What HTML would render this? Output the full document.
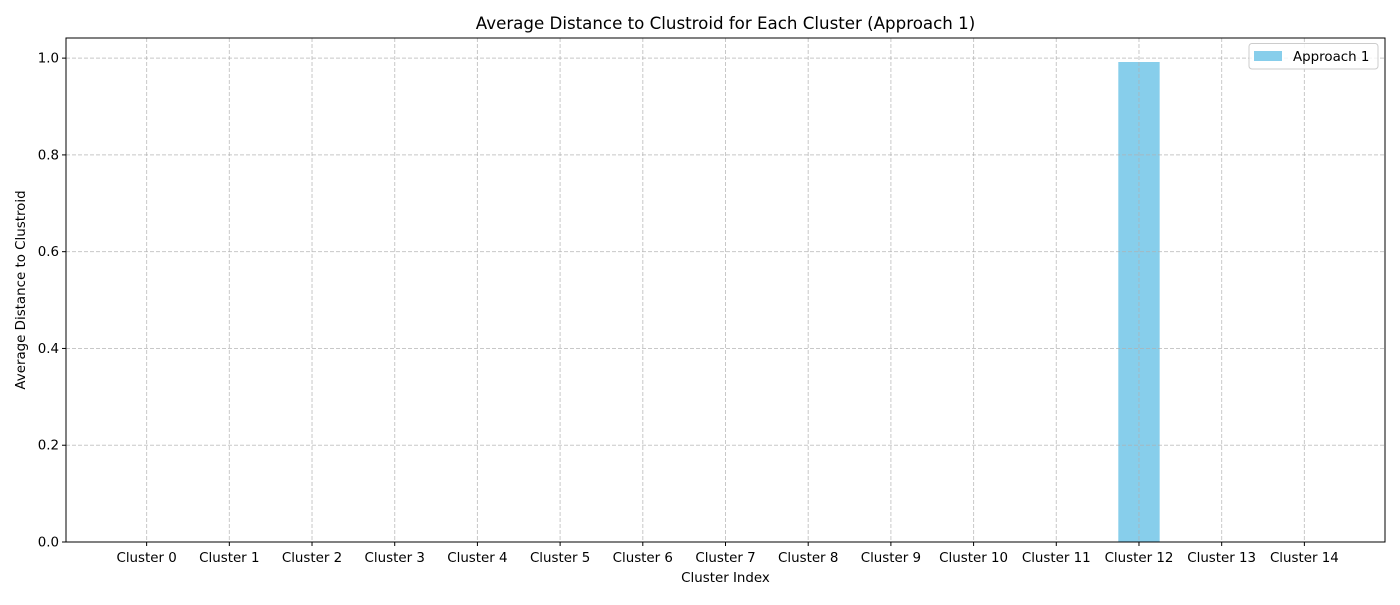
<!DOCTYPE html>
<html><head><meta charset="utf-8"><style>
body{margin:0;background:#fff;}
svg text{font-family:"DejaVu Sans","Liberation Sans",sans-serif;fill:#000;}
</style></head><body>
<svg id="chart" width="1400" height="600" xmlns="http://www.w3.org/2000/svg">
<rect width="1400" height="600" fill="#fff"/>
<text x="725.5" y="29" font-size="16.67" text-anchor="middle">Average Distance to Clustroid for Each Cluster (Approach 1)</text>
<g id="bars"></g>
<g id="grid"></g>
<g id="ticks"></g>
<rect x="66" y="38" width="1319" height="504" fill="none" stroke="#000" stroke-width="1"/>
<text x="725.5" y="582" font-size="13.4" text-anchor="middle">Cluster Index</text>
<text transform="translate(25,290) rotate(-90)" font-size="13.4" text-anchor="middle">Average Distance to Clustroid</text>
<g>
<rect x="1249" y="43.5" width="129" height="25.5" rx="3" fill="#fff" fill-opacity="0.8" stroke="#ccc"/>
<rect x="1254" y="51" width="28" height="10" fill="#87ceeb"/>
<text x="1293" y="61" font-size="13.4">Approach 1</text>
</g>
</svg>
<script>
const categories = ["Cluster 0","Cluster 1","Cluster 2","Cluster 3","Cluster 4","Cluster 5","Cluster 6","Cluster 7","Cluster 8","Cluster 9","Cluster 10","Cluster 11","Cluster 12","Cluster 13","Cluster 14"];
const values = [0,0,0,0,0,0,0,0,0,0,0,0,0.992,0,0];
const yTicks = [0.0,0.2,0.4,0.6,0.8,1.0];
const NS="http://www.w3.org/2000/svg";
const L=66,R=1385,T=38,B=542;
const maxV=Math.max(...values)||1;
const yMax=maxV*1.05;
const xMin=-0.25-0.05*(categories.length-0.5), xMax=categories.length-0.75+0.05*(categories.length-0.5);
function xs(i){return L+(i-xMin)/(xMax-xMin)*(R-L);}
function ys(v){return B-v/yMax*(B-T);}
const step=xs(1)-xs(0);
function mk(tag,attrs,parent){const e=document.createElementNS(NS,tag);for(const k in attrs)e.setAttribute(k,attrs[k]);document.getElementById(parent).appendChild(e);return e;}
values.forEach((v,i)=>{
 const r=mk('rect',{x:xs(i)-step*0.25,y:ys(v),width:step*0.5,height:B-ys(v),fill:'#87ceeb'},'bars');
 
 
});
categories.forEach((c,i)=>{
 const x=xs(i);
 const g=mk('line',{x1:x,x2:x,y1:T,y2:B,stroke:'#b0b0b0','stroke-opacity':0.7,'stroke-dasharray':'4,2'},'grid');
 
 
 mk('line',{x1:x,x2:x,y1:B,y2:B+4,stroke:'#000'},'ticks');
 const t=mk('text',{x:x,y:B+20,'font-size':13.4,'text-anchor':'middle'},'ticks');
 t.textContent=c;
 
 
});
yTicks.forEach(v=>{
 const y=ys(v);
 const g=mk('line',{x1:L,x2:R,y1:y,y2:y,stroke:'#b0b0b0','stroke-opacity':0.7,'stroke-dasharray':'4,2'},'grid');
 
 
 mk('line',{x1:L-4,x2:L,y1:y,y2:y,stroke:'#000'},'ticks');
 const t=mk('text',{x:L-7,y:y+4.5,'font-size':13.4,'text-anchor':'end'},'ticks');
 t.textContent=v.toFixed(1);
 
 
});
</script>
</body></html>
